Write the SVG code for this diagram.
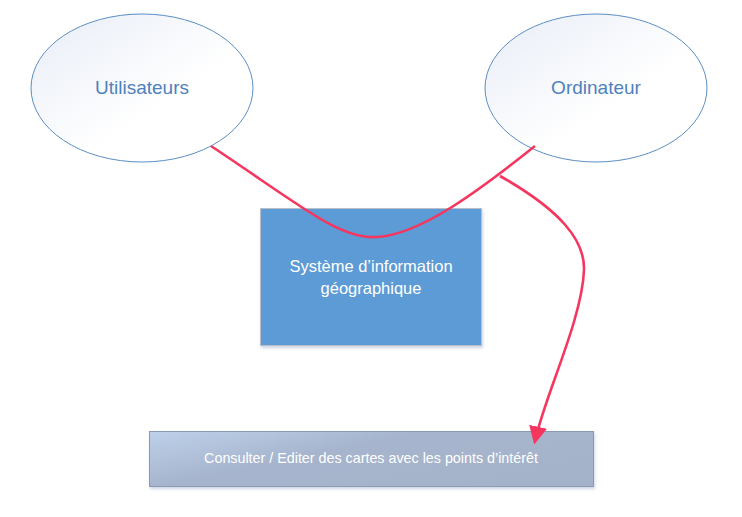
<svg xmlns="http://www.w3.org/2000/svg" width="742" height="517" viewBox="0 0 742 517">
<defs>
<style>
.ell{fill:url(#eg);stroke:#5b8ec4;stroke-width:1}
.et{font-family:"Liberation Sans",Arial,sans-serif;font-size:19px;fill:#4f81bd;text-anchor:middle}
.wt{font-family:"Liberation Sans",Arial,sans-serif;fill:#ffffff;text-anchor:middle}
.con{fill:none;stroke:#f5375f;stroke-width:2.6}
</style>
<linearGradient id="eg" x1="0" y1="0" x2="1" y2="1">
<stop offset="0" stop-color="#e8edf6"/>
<stop offset="0.6" stop-color="#ffffff"/>
</linearGradient>
<linearGradient id="bg" x1="0" y1="0" x2="1" y2="0.6">
<stop offset="0" stop-color="#bed1ea"/>
<stop offset="0.45" stop-color="#a6b5cd"/>
<stop offset="1" stop-color="#a5b3ca"/>
</linearGradient>
<filter id="sh" x="-5%" y="-5%" width="115%" height="125%">
<feDropShadow dx="1" dy="2" stdDeviation="1.5" flood-color="#9aaccc" flood-opacity="0.5"/>
</filter>
<marker id="ah" viewBox="0 0 10 10" refX="8" refY="5" markerWidth="7" markerHeight="7" orient="auto" markerUnits="strokeWidth">
<path d="M0,0 L10,5 L0,10 z" fill="#f5375f"/>
</marker>
</defs>
<g id="utilisateurs">
<ellipse class="ell" cx="142" cy="88" rx="111" ry="74"/>
<text class="et" x="142" y="94">Utilisateurs</text>
</g>
<g id="ordinateur">
<ellipse class="ell" cx="596" cy="88" rx="111" ry="74"/>
<text class="et" x="596" y="94">Ordinateur</text>
</g>
<g id="sig">
<rect x="260.5" y="208.5" width="221" height="137" fill="#5b9bd5" stroke="#b8bfc8" stroke-width="1" filter="url(#sh)"/>
<text class="wt" font-size="16.5" x="371" y="272">Système d’information</text>
<text class="wt" font-size="16.5" x="371" y="294">géographique</text>
</g>
<g id="consulter">
<rect x="149.5" y="431.5" width="444" height="55" fill="url(#bg)" stroke="#8a9ab2" stroke-width="1" filter="url(#sh)"/>
<text class="wt" font-size="14.3" x="371" y="463">Consulter / Editer des cartes avec les points d’intérêt</text>
</g>
<g id="connectors">
<path class="con" d="M211,146 C300,205 340,240 377,237 C420,235 480,190 535,146"/>
<path class="con" d="M500,176 C560,210 585,240 584,270 C582,320 545,395 535,441" marker-end="url(#ah)"/>
</g>
</svg>
